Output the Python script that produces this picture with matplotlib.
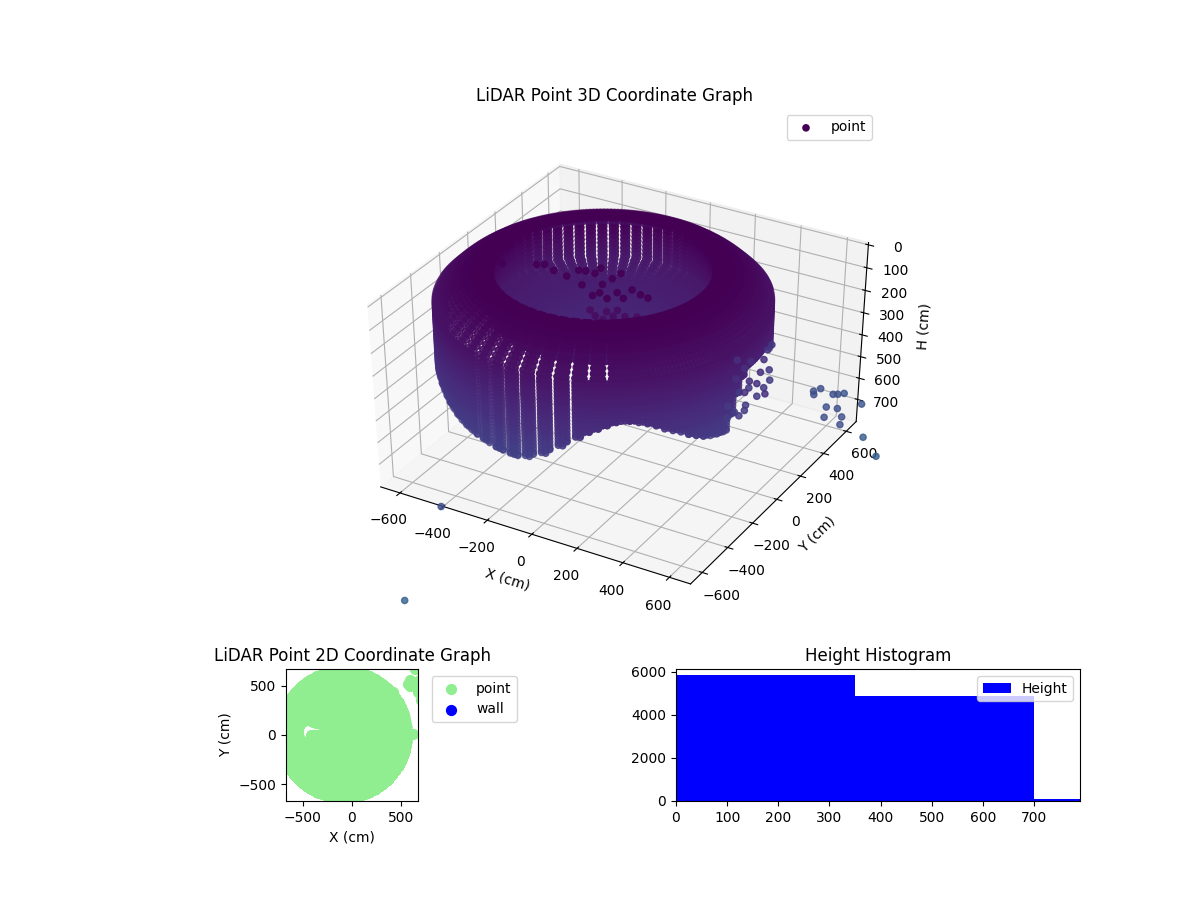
import numpy as np
import matplotlib

matplotlib.use("Agg")
import matplotlib.pyplot as plt

SCAN_ANGLES = [0, 3, 6, 9, 12, 15, 18, 21, 24, 27, 30, 33, 36, 39, 42, 45, 48, 51, 54, 57,
               60, 63, 66, 69, 72, 75, 78, 81, 84, 87, 90, 93, 96, 99, 102, 105, 108, 111, 114, 117,
               120, 123, 126, 129, 132, 135, 138, 141, 144, 147, 150, 153, 156, 159, 162, 165, 168, 171, 174, 177,
               180, 183, 186, 189, 192, 195, 198, 201, 204, 207, 210, 213, 216, 219, 222, 225, 228, 231, 234, 237,
               240, 243, 246, 249, 252, 255, 258, 261, 264, 267, 270, 273, 276, 279, 282, 285, 288, 291, 294, 297,
               300, 303, 306, 309, 312, 315, 318, 321, 324, 327, 330, 333, 336, 339, 342, 345, 348, 351, 354, 357]

# lowest wall point for each angle above (cm)
WALL_BOTTOM = [230, 230, 230, 230, 230, 230, 230, 230, 300, 330, 330, 300] + [120] * 53 + \
              [430, 430, 430, 430, 430,
               390, 390, 395, 395, 400, 410, 420, 430, 440, 450,
               460, 468, 475, 480, 485, 490, 495, 500, 503, 505,
               505, 495, 480, 465, 445, 420, 400, 375, 350, 335,
               320, 308, 303, 305, 315, 325, 340, 360, 375, 390,
               410, 425, 440, 450, 455, 460, 400, 320, 260, 230]

# cross section of the ring: distance from the scanner axis and depth (cm)
ROOF_R = [430, 445, 460, 475, 490, 505, 520, 535, 550, 565, 580, 595, 610, 625, 640]
ROOF_H = [0, 0, 0, 5, 10, 15, 20, 30, 40, 50, 62, 75, 90, 105, 120]
WALL_H = [140, 155, 170, 185, 200, 215, 230, 245, 260, 275, 290, 305, 320, 335, 350, 365, 380,
          395, 410, 425, 440, 455, 470, 485, 500, 515, 530]
INNER_R = [430, 430, 430, 430, 430, 430, 430, 430, 430, 410, 390, 370, 350, 330, 310, 295, 280, 265, 250,
           235, 220, 205, 190, 175, 160, 145, 130, 115, 100, 85, 70, 55, 40, 25, 10]
INNER_H = [20, 38, 56, 74, 92, 110, 128, 146, 164, 172, 180, 188, 196, 204, 212, 218, 224, 230, 236,
           242, 248, 254, 260, 265, 270, 274, 278, 281, 284, 286, 288, 290, 291, 292, 293]

# in these angle ranges the wall and the shoulder show gaps
STRIPE_FROM = 252
STRIPE_TO = 294
DIAMOND_FROM = 222
DIAMOND_TO = 306

# the gap in the 2D view
GAP_X = [-478, -478, -478, -478, -450, -420, -390, -360, -330]
GAP_Y = [80, 50, 20, -10, 75, 70, 66, 62, 60]
GAP_KEEP = [58, 58, 58, 58, 62, 60, 58, 56, 53]

# stray returns inside the ring
BLOB_X = [-465, -347, -321, -265, -199, -113, -184, -158, -118, -120, -31, -48, -39, -23, -35, 33, 70, 117, 76, 154, 24,
          -20, 20, 60, 100, 140, 40, 80, 0, 120, -60, 30]
BLOB_Y = [-110, -53, -37, -63, -77, -109, -13, -5, -4, 43, 43, -68, -9, -131, -163, -97, -50, -68, -125, -77, -157,
          -170, -180, -170, -150, -130, -140, -120, -120, -100, -140, -90]
BLOB_H = [20, 20, 20, 20, 20, 20, 20, 20, 20, 20, 20, 20, 20, 20, 20, 20, 20, 20, 20, 20, 20,
          100, 100, 100, 100, 100, 100, 100, 100, 100, 100, 100]

# stray returns next to the wall
NEAR_X = [-126, 420, 425, 465, 489, 461, 504, 531, 502, 530, 515, 520, 512, 463, 448,
          457, 452, 523, 519, 401, 488, 552, 544, 615, 466]
NEAR_Y = [-594, 441, 397, 337, 297, 6, -21, -36, -77, 10, 48, 130, 202, 172, 123,
          144, 204, 147, 65, 187, 242, 63, -20, 9, 56]
NEAR_H = [500, 400, 400, 450, 470, 450, 450, 450, 450, 450, 450, 450, 450, 450, 450,
          350, 350, 350, 350, 350, 350, 350, 350, 350, 350]

# stray returns far outside the ring
FAR_X = [-155, -226, 573, 588, 586, 651, 667, 639, 673, 716, 702, 760, 781, 741, 817, 896]
FAR_Y = [-1331, -958, 521, 554, 498, 538, 548, 668, 435, 446, 359, 396, 339, 618, 486, 447]
FAR_H = [790, 600, 610, 610, 610, 610, 610, 675, 610, 610, 610, 610, 610, 670, 735, 780]

HIST_EDGES = [0, 350, 700, 790]
HIST_COUNTS = [5830, 4870, 80]

CENTER_X = -90
CENTER_Y = 10
WALL_R = 640


def ring_points(ang, rr, hh, bottom=None):
    """One scan column, as rows of x, y, H."""
    t = np.radians(ang)
    return [(CENTER_X + r * np.cos(t), CENTER_Y + r * np.sin(t), h)
            for r, h in zip(rr, hh) if bottom is None or h <= bottom]


def build_cloud():
    outer, inner = [], []
    for ang, bottom in zip(SCAN_ANGLES, WALL_BOTTOM):
        wall_r = [WALL_R] * (len(WALL_H) + 1)
        wall_h = list(WALL_H) + [bottom]
        outer += ring_points(ang, ROOF_R, ROOF_H)
        outer += ring_points(ang, wall_r, wall_h, bottom)
        if not DIAMOND_FROM <= ang < DIAMOND_TO or ang % 6 == 3:
            outer += ring_points(ang + 1.5, ROOF_R, ROOF_H)
        if not STRIPE_FROM <= ang < STRIPE_TO or ang % 6 == 3:
            outer += ring_points(ang + 1.5, wall_r, wall_h, bottom)
        if ang % 6 == 0:
            inner += ring_points(ang, INNER_R, INNER_H)
            inner += ring_points(ang + 1.5, INNER_R, INNER_H)
    return np.array(outer), np.array(inner)


outer, inner = build_cloud()
inner_x = np.concatenate([inner[:, 0], BLOB_X])
inner_y = np.concatenate([inner[:, 1], BLOB_Y])
inner_h = np.concatenate([inner[:, 2], BLOB_H])

all_x = np.concatenate([outer[:, 0], inner_x, NEAR_X, FAR_X])
all_y = np.concatenate([outer[:, 1], inner_y, NEAR_Y, FAR_Y])

# only the 2D view shows the gap
keep = np.ones(len(all_x), dtype=bool)
for gx, gy, gk in zip(GAP_X, GAP_Y, GAP_KEEP):
    keep &= np.hypot(all_x - gx, all_y - gy) > gk

fig = plt.figure(figsize=(12, 9), dpi=100)

# ---- 3D view, the box is a little wider than a square panel
ax3 = fig.add_axes([337.5 / 1200, 297 / 900, 555 / 1200, 462 / 900], projection="3d")
ax3.apply_aspect = lambda position=None: None
ax3.view_init(elev=36, azim=-60)
ax3.computed_zorder = False
point_style = dict(cmap="viridis", vmin=0, vmax=2600, s=20, clip_on=False)
ax3.scatter(outer[:, 0], outer[:, 1], outer[:, 2], c=outer[:, 2], label="point", zorder=2, **point_style)
ax3.scatter(inner_x, inner_y, inner_h, c=inner_h, alpha=0.95, depthshade=False, zorder=1, **point_style)
ax3.scatter(NEAR_X, NEAR_Y, NEAR_H, c=NEAR_H, alpha=0.85, depthshade=False, zorder=3, **point_style)
ax3.scatter(FAR_X, FAR_Y, FAR_H, c=FAR_H, alpha=0.8, depthshade=False, zorder=3, **point_style)
ax3.set_xlim(-690, 690)
ax3.set_ylim(-690, 690)
ax3.set_zlim(805, -10)
ax3.set_xticks([-600, -400, -200, 0, 200, 400, 600])
ax3.set_yticks([-600, -400, -200, 0, 200, 400, 600])
ax3.set_zticks([0, 100, 200, 300, 400, 500, 600, 700])
ax3.set_xlabel("X (cm)")
ax3.set_ylabel("Y (cm)")
ax3.set_zlabel("H (cm)")
ax3.set_title("LiDAR Point 3D Coordinate Graph", y=(1 + 31.5 / 462) / 0.92)
ax3.legend(loc="upper right", bbox_to_anchor=(879 / 1200, 1 - 108 / 900), bbox_transform=fig.transFigure)

# ---- 2D view
ax2 = fig.add_axes([286 / 1200, 99 / 900, 132 / 1200, 132 / 900])
ax2.scatter(all_x[keep], all_y[keep], color="lightgreen", s=50, label="point")
ax2.scatter([], [], color="blue", s=50, label="wall")
ax2.set_xlim(-670, 670)
ax2.set_ylim(-670, 670)
ax2.set_xlabel("X (cm)")
ax2.set_ylabel("Y (cm)")
ax2.set_title("LiDAR Point 2D Coordinate Graph")
ax2.legend(loc="upper left", bbox_to_anchor=(1.05, 1))

# ---- histogram
ax1 = fig.add_axes([676 / 1200, 99 / 900, 404 / 1200, 132 / 900])
ax1.hist(HIST_EDGES[:-1], bins=HIST_EDGES, weights=HIST_COUNTS, color="blue", label="Height")
ax1.set_xlim(0, 790)
ax1.set_ylim(0, 6130)
ax1.set_title("Height Histogram")
ax1.legend(loc="upper right")

fig.savefig("out.png", dpi=100)
